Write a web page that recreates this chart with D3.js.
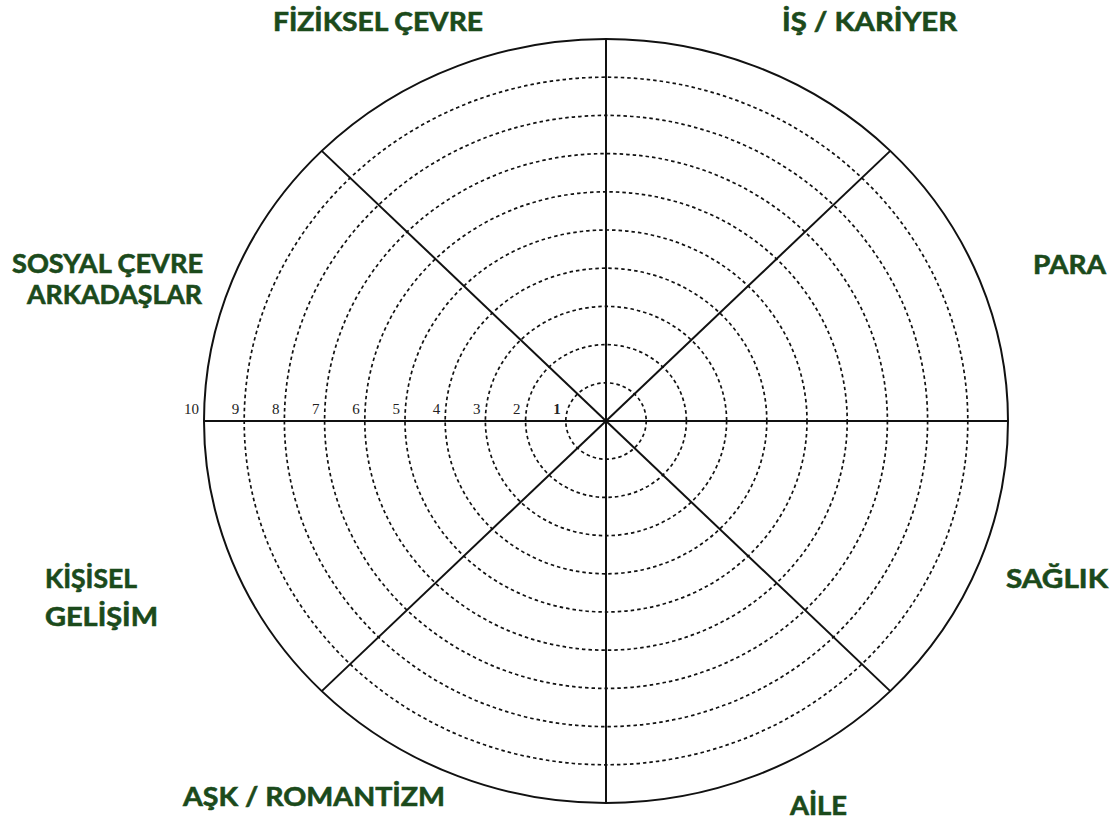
<!DOCTYPE html>
<html>
<head>
<meta charset="utf-8">
<script src="https://cdn.jsdelivr.net/npm/d3@7"></script>
<style>
  html, body { margin: 0; padding: 0; background: #fff; }
  svg { display: block; }
</style>
</head>
<body>
<svg id="chart" width="1112" height="824"></svg>
<script>
// ---- data ----
const categories = ["FİZİKSEL ÇEVRE", "İŞ / KARİYER", "PARA", "SAĞLIK", "AİLE", "AŞK / ROMANTİZM", "KİŞİSEL GELİŞİM", "SOSYAL ÇEVRE ARKADAŞLAR"];
const ringLevels = [1, 2, 3, 4, 5, 6, 7, 8, 9, 10];
const tickLabels = ["1", "2", "3", "4", "5", "6", "7", "8", "9", "10"];
const spokeAngles = [0, 45, 90, 135, 180, 225, 270, 315]; // degrees

// ---- layout (text placement) ----
const labelLayout = [
  { lines: ["FİZİKSEL ÇEVRE"], x: 273, y: 31, widths: [210] },
  { lines: ["İŞ / KARİYER"], x: 782, y: 31, widths: [175] },
  { lines: ["PARA"], x: 1033, y: 274, widths: [73] },
  { lines: ["SAĞLIK"], x: 1006, y: 588, widths: [102] },
  { lines: ["AİLE"], x: 790, y: 815, widths: [57] },
  { lines: ["AŞK / ROMANTİZM"], x: 183, y: 806, widths: [262] },
  { lines: ["KİŞİSEL", "GELİŞİM"], x: 45, y: 588, widths: [92, 113], lh: 38 },
  { lines: ["SOSYAL ÇEVRE", "ARKADAŞLAR"], x: 12, y: 273, widths: [191, 175], dx: [0, 15], lh: 31 }
];

const svg = d3.select("#chart");
const cx = 606, cy = 421, RX = 402, RY = 382;

const rx = d3.scaleLinear().domain([0, 10]).range([0, RX]);
const ry = d3.scaleLinear().domain([0, 10]).range([0, RY]);

const g = svg.append("g").attr("transform", `translate(${cx},${cy})`);

// dashed rings
g.selectAll("ellipse.ring")
  .data(ringLevels.filter(d => d < 10))
  .join("ellipse")
  .attr("class", "ring")
  .attr("rx", d => rx(d))
  .attr("ry", d => ry(d))
  .attr("fill", "none")
  .attr("stroke", "#111")
  .attr("stroke-width", 1.7)
  .attr("stroke-dasharray", "3.5,3");

// outer ring
g.append("ellipse")
  .attr("rx", rx(10))
  .attr("ry", ry(10))
  .attr("fill", "none")
  .attr("stroke", "#111")
  .attr("stroke-width", 2);

// spokes
g.selectAll("line.spoke")
  .data(spokeAngles)
  .join("line")
  .attr("class", "spoke")
  .attr("x1", 0).attr("y1", 0)
  .attr("x2", d => rx(10) * Math.sin(d * Math.PI / 180))
  .attr("y2", d => -ry(10) * Math.cos(d * Math.PI / 180))
  .attr("stroke", "#111")
  .attr("stroke-width", 2);

// tick labels along the left horizontal spoke
g.selectAll("text.tick")
  .data(ringLevels)
  .join("text")
  .attr("class", "tick")
  .attr("x", d => -rx(d) - 5)
  .attr("y", -7)
  .attr("text-anchor", "end")
  .attr("font-family", "'Liberation Serif', 'DejaVu Serif', serif")
  .attr("font-size", 15)
  .attr("font-weight", d => d === 1 ? "bold" : "normal")
  .attr("fill", "#222")
  .text((d, i) => tickLabels[i]);

// category labels
labelLayout.forEach(L => {
  const t = svg.append("text")
    .attr("font-family", "Lato, 'Open Sans', sans-serif")
    .attr("font-weight", 700)
    .attr("font-size", 26)
    .attr("fill", "#1b4a1b")
    .attr("stroke", "#1b4a1b")
    .attr("stroke-width", 0.6)
    .attr("text-anchor", "start");
  L.lines.forEach((line, j) => {
    t.append("tspan")
      .attr("x", L.x + (L.dx ? L.dx[j] : 0))
      .attr("y", L.y + j * (L.lh || 0))
      .attr("textLength", L.widths[j])
      .attr("lengthAdjust", "spacingAndGlyphs")
      .text(line);
  });
});
</script>
</body>
</html>
